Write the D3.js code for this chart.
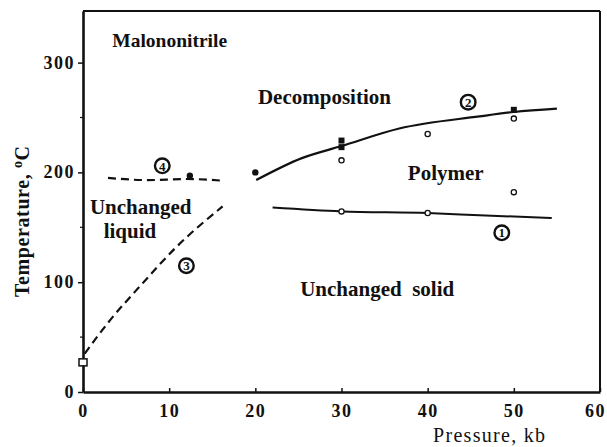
<!DOCTYPE html>
<html><head><meta charset="utf-8">
<script src="https://cdn.jsdelivr.net/npm/d3@7"></script>
<style>
body{margin:0;background:#fff;}
svg text{font-family:"Liberation Serif","Times New Roman",serif;fill:#111;}
</style></head>
<body><svg id="c" width="607" height="447"></svg>
<script>
// ---- data (pressure kb, temperature °C) ----
const xTicks = [0,10,20,30,40,50,60];
const yTicks = [0,100,200,300];
const yMinor = [50,150,250];
const curve1 = [[22,168],[30,164.5],[40,163],[46,161],[54.4,158.5]];          // solid, lower
const curve2 = [[20.1,193],[25.4,213],[30,224],[36.7,240],[46,251],[50,255],[55,258]]; // solid, upper
const curve3 = [[0.2,35],[3,64],[6.8,98],[10.7,131],[16.2,169]];             // dashed, rising
const curve4 = [[2.9,195],[7.5,193],[12,194],[16.1,192.5]];                   // dashed, flat
const filledCircles = [[20,200],[12.4,197]];
const openCircles = [[30,211],[40,235],[50,249],[50,182],[30,164.5],[40,163]];
const filledSquares = [[30,229],[30,223],[50,257]];
const openSquares = [[0,27]];
const circledLabels = [["1",48.6,145],["2",44.7,264],["3",12,115],["4",9.2,206]];
const regionLabels = [
  ["Malononitrile",3.4,314,19.5],
  ["Decomposition",20.3,262,21],
  ["Polymer",37.7,193,21],
  ["Unchanged",0.8,162,21],
  ["liquid",2.4,140,21],
  ["Unchanged  solid",25.2,87,21]
];

const svg = d3.select("#c");
const x = d3.scaleLinear().domain([0,60]).range([83,600]);
const y = d3.scaleLinear().domain([0,347]).range([392,11]);
const ink = "#111";

// frame
svg.append("line").attr("x1",x(0)).attr("x2",x(60)).attr("y1",y(347)).attr("y2",y(347)).attr("stroke",ink).attr("stroke-width",2);
svg.append("line").attr("x1",x(60)).attr("x2",x(60)).attr("y1",y(347)).attr("y2",y(0)).attr("stroke",ink).attr("stroke-width",2);

// axes
const xa = svg.append("g").attr("transform",`translate(0,${y(0)})`)
  .call(d3.axisBottom(x).tickValues(xTicks).tickSize(-4).tickSizeOuter(0).tickPadding(12));
const ya = svg.append("g").attr("transform",`translate(${x(0)},0)`)
  .call(d3.axisLeft(y).tickValues(yTicks).tickSize(5).tickSizeOuter(0).tickPadding(3));
[xa,ya].forEach(g=>{
  g.select(".domain").attr("stroke",ink).attr("stroke-width",2.6);
  g.selectAll(".tick line").attr("stroke",ink).attr("stroke-width",1.5);
  g.selectAll(".tick text").attr("font-size",18).attr("font-weight","bold")
   .attr("letter-spacing",1.5).attr("fill",ink).attr("font-family","Liberation Serif, serif");
});
xa.selectAll(".tick text").filter(d=>d===60).attr("dx",-5);
ya.selectAll(".tick text").attr("dy","0.3em");
ya.selectAll(".minor").data(yMinor).enter().append("line")
  .attr("x1",-3).attr("x2",0).attr("y1",d=>y(d)).attr("y2",d=>y(d)).attr("stroke",ink).attr("stroke-width",1.2);

// axis titles
svg.append("text").attr("x",433).attr("y",442).attr("font-size",20).attr("letter-spacing",1.3)
  .text("Pressure, kb");
const yt = svg.append("text").attr("transform","translate(29,297) rotate(-90)")
  .attr("font-size",20).attr("font-weight","bold").attr("letter-spacing",0.6);
yt.append("tspan").text("Temperature, ");
yt.append("tspan").attr("font-size",14).attr("dy",-7).text("o");
yt.append("tspan").attr("dy",7).text("C");

// curves
const lc = d3.line().x(d=>x(d[0])).y(d=>y(d[1])).curve(d3.curveMonotoneX);
svg.append("path").attr("d",lc(curve1)).attr("fill","none").attr("stroke",ink).attr("stroke-width",2);
svg.append("path").attr("d",lc(curve2)).attr("fill","none").attr("stroke",ink).attr("stroke-width",2.2);
svg.append("path").attr("d",lc(curve3)).attr("fill","none").attr("stroke",ink).attr("stroke-width",2.2).attr("stroke-dasharray","8,5");
svg.append("path").attr("d",lc(curve4)).attr("fill","none").attr("stroke",ink).attr("stroke-width",2.2).attr("stroke-dasharray","8,5");

// markers
svg.selectAll(".fc").data(filledCircles).enter().append("circle")
  .attr("cx",d=>x(d[0])).attr("cy",d=>y(d[1])).attr("r",3.2).attr("fill",ink);
svg.selectAll(".oc").data(openCircles).enter().append("circle")
  .attr("cx",d=>x(d[0])).attr("cy",d=>y(d[1])).attr("r",2.6).attr("fill","#fff").attr("stroke",ink).attr("stroke-width",1.3);
svg.selectAll(".fs").data(filledSquares).enter().append("rect")
  .attr("x",d=>x(d[0])-3).attr("y",d=>y(d[1])-3).attr("width",6).attr("height",6).attr("fill",ink);
svg.selectAll(".os").data(openSquares).enter().append("rect")
  .attr("x",d=>x(d[0])-4).attr("y",d=>y(d[1])-3.5).attr("width",8).attr("height",7).attr("fill","#fff").attr("stroke",ink).attr("stroke-width",1.5);

// circled numbers
const cl = svg.selectAll(".cl").data(circledLabels).enter().append("g")
  .attr("transform",d=>`translate(${x(d[1])},${y(d[2])})`);
cl.append("circle").attr("r",7.3).attr("fill","#fff").attr("stroke",ink).attr("stroke-width",2.4);
cl.append("text").attr("text-anchor","middle").attr("dy","0.36em").attr("font-size",13).attr("font-weight","bold").text(d=>d[0]);

// region labels
svg.selectAll(".rl").data(regionLabels).enter().append("text")
  .attr("x",d=>x(d[1])).attr("y",d=>y(d[2])).attr("font-size",d=>d[3]).attr("font-weight","bold")
  .attr("xml:space","preserve").style("white-space","pre").text(d=>d[0]);
</script></body></html>
